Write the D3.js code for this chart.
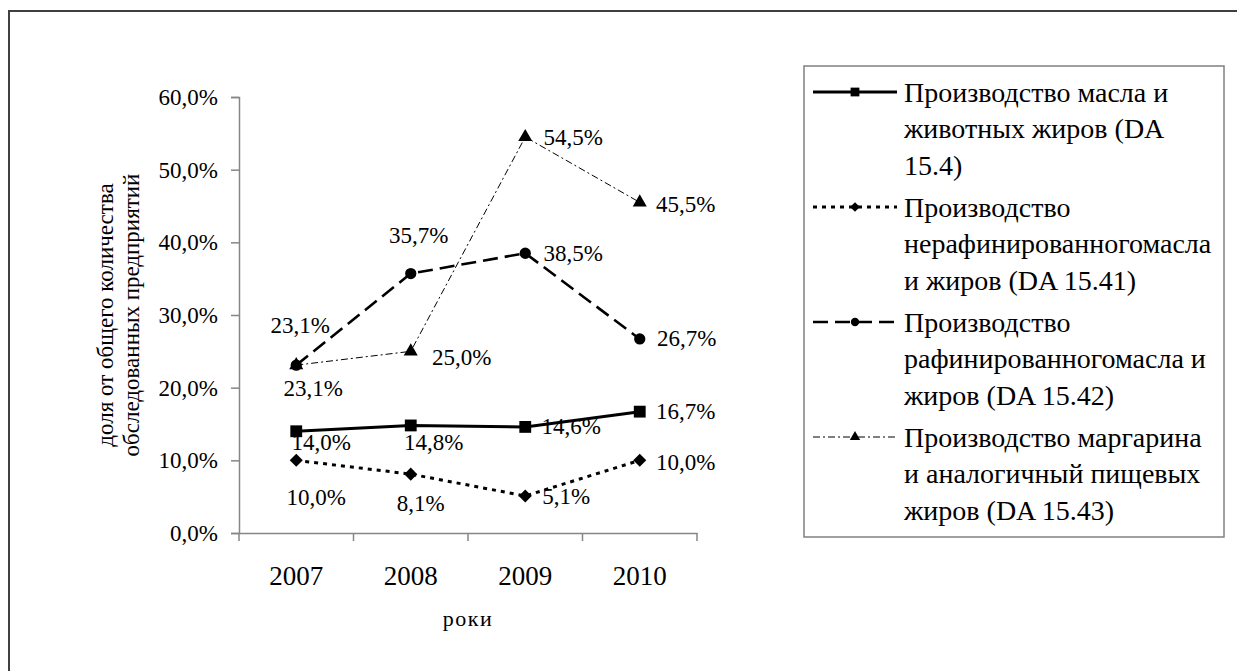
<!DOCTYPE html>
<html lang="ru">
<head>
<meta charset="utf-8">
<title>Доля предприятий</title>
<script src="https://d3js.org/d3.v7.min.js"></script>
<style>
  body { margin: 0; background: #fff; }
  svg text { font-family: "Liberation Serif", "Times New Roman", serif; fill: #000; }
</style>
</head>
<body>
<script>
// data
const years = ["2007", "2008", "2009", "2010"];
const butter = [14.0, 14.8, 14.6, 16.7];
const unrefined = [10.0, 8.1, 5.1, 10.0];
const refined = [23.1, 35.7, 38.5, 26.7];
const margarine = [23.1, 25.0, 54.5, 45.5];
const yTicks = [0, 10, 20, 30, 40, 50, 60];
const legendNames = [
  ["Производство масла и", "животных жиров (DA", "15.4)"],
  ["Производство", "нерафинированногомасла", "и жиров (DA 15.41)"],
  ["Производство", "рафинированногомасла и", "жиров (DA 15.42)"],
  ["Производство маргарина", "и аналогичный пищевых", "жиров (DA 15.43)"]
];

// label offsets from each point (dx, dy), as placed in the original
const labelOffsets = [
  [[25, 11], [23, 17], [46, 0], [46, 0]],
  [[20, 37], [10, 29], [41, 1], [46, 2]],
  [[4, -40], [8, -38], [48, 0], [47, 0]],
  [[17, 23], [51, 6], [48, 1], [46, 2]]
];

const series = [
  { values: butter, dash: null, width: 3, symbol: d3.symbolSquare, size: 140, rot: 0 },
  { values: unrefined, dash: "4,5", width: 3, symbol: d3.symbolSquare, size: 85, rot: 45 },
  { values: refined, dash: "15,7", width: 2.6, symbol: d3.symbolCircle, size: 100, rot: 0 },
  { values: margarine, dash: "7,3,2,3", width: 1, symbol: d3.symbolTriangle, size: 85, rot: 0 }
];

const W = 1237, H = 671;
const svg = d3.select("body").append("svg").attr("width", W).attr("height", H)
  .attr("font-family", "Liberation Serif");

// outer frame
svg.append("rect").attr("x", 9).attr("y", 11).attr("width", W).attr("height", H)
  .attr("fill", "none").attr("stroke", "#404040").attr("stroke-width", 2);

const x = d3.scaleBand().domain(years).range([239, 697]);
const y = d3.scaleLinear().domain([0, 60]).range([533, 97]);
const fmt = v => d3.format(".1f")(v).replace(".", ",") + "%";

// y axis
const yAxis = svg.append("g").attr("transform", "translate(239,0)")
  .call(d3.axisLeft(y).tickValues(yTicks).tickSize(8).tickPadding(13).tickFormat(fmt));
yAxis.attr("font-family", null).attr("font-size", null);
yAxis.selectAll("text").attr("font-size", 23);

// x axis
const xAxis = svg.append("g").attr("transform", "translate(0,533)")
  .call(d3.axisBottom(x).tickSize(0));
xAxis.attr("font-family", null).attr("font-size", null);
xAxis.selectAll("text").attr("font-size", 27).attr("y", 43).attr("dy", "0.35em");
xAxis.selectAll(".tick line").remove();
// category boundary ticks
xAxis.selectAll(".bound").data(d3.range(years.length + 1)).join("line")
  .attr("x1", i => x.range()[0] + i * x.bandwidth())
  .attr("x2", i => x.range()[0] + i * x.bandwidth())
  .attr("y1", 0).attr("y2", 8);

svg.selectAll(".domain, g line").attr("stroke", "#868686").attr("stroke-width", 1.5);

// axis titles
svg.append("text").attr("transform", "translate(105,315) rotate(-90)")
  .attr("text-anchor", "middle").attr("dominant-baseline", "central").attr("font-size", 23)
  .text("доля от общего количества");
svg.append("text").attr("transform", "translate(131,315) rotate(-90)")
  .attr("text-anchor", "middle").attr("dominant-baseline", "central").attr("font-size", 23)
  .text("обследованных предприятий");
svg.append("text").attr("x", 468).attr("y", 618)
  .attr("text-anchor", "middle").attr("dominant-baseline", "central").attr("font-size", 22)
  .attr("letter-spacing", 1.5).text("роки");

const cx = i => x(years[i]) + x.bandwidth() / 2;
const line = d3.line().x((d, i) => cx(i)).y(d => y(d));

series.forEach((s, si) => {
  const g = svg.append("g");
  g.append("path").datum(s.values)
    .attr("d", line).attr("fill", "none").attr("stroke", "#000")
    .attr("stroke-width", s.width).attr("stroke-dasharray", s.dash);
  g.selectAll("path.m").data(s.values).join("path").attr("class", "m")
    .attr("transform", (d, i) => `translate(${cx(i)},${y(d)}) rotate(${s.rot})`)
    .attr("d", d3.symbol(s.symbol, s.size)).attr("fill", "#000");
  g.selectAll("text").data(s.values).join("text")
    .attr("x", (d, i) => cx(i) + labelOffsets[si][i][0])
    .attr("y", (d, i) => y(d) + labelOffsets[si][i][1])
    .attr("text-anchor", "middle").attr("dominant-baseline", "central")
    .attr("font-size", 23).text(fmt);
});

// legend
const lg = svg.append("g");
lg.append("rect").attr("x", 804).attr("y", 66).attr("width", 420).attr("height", 471)
  .attr("fill", "#fff").attr("stroke", "#808080").attr("stroke-width", 1.5);

series.forEach((s, si) => {
  const top = 92 + si * 115;
  lg.append("line").attr("x1", 813).attr("x2", 897).attr("y1", top).attr("y2", top)
    .attr("stroke", "#000").attr("stroke-width", s.width).attr("stroke-dasharray", s.dash);
  lg.append("path").attr("transform", `translate(855,${top}) rotate(${s.rot})`)
    .attr("d", d3.symbol(s.symbol, s.size * 0.55)).attr("fill", "#000");
  legendNames[si].forEach((t, li) => {
    lg.append("text").attr("x", 904).attr("y", top + li * 36.5)
      .attr("dominant-baseline", "central").attr("font-size", 28).text(t);
  });
});
</script>
</body>
</html>
